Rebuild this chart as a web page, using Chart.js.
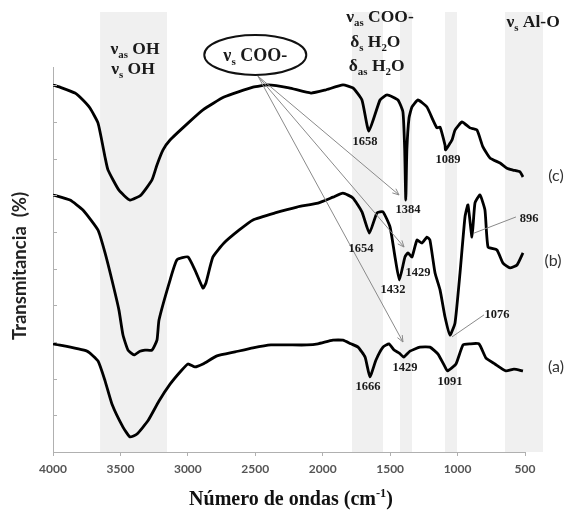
<!DOCTYPE html>
<html><head><meta charset="utf-8">
<script src="https://cdn.jsdelivr.net/npm/chart.js@4.4.1/dist/chart.umd.min.js"></script>
<style>html,body{margin:0;padding:0;background:#fff;}#wrap{width:567px;height:510px;}</style>
</head><body><div id="wrap"><canvas id="cv" width="567" height="510"></canvas></div>
<script>
// ---- data (wavenumber cm-1, transmittance, arbitrary offset %) ----
const waveC = [4000,3948,3837,3778,3726,3666,3614,3592,3511,3429,3347,3266,3229,3184,3132,2999,2888,2732,2517,2406,2250,2087,1983,1850,1776,1709,1658,1575,1523,1442,1405,1392,1384,1376,1360,1338,1294,1227,1182,1153,1130,1093,1089,1041,1019,967,908,856,812,760,685,634,589,537,515];
const transC = [100.1,99.5,97.9,96.0,93.8,89.7,80.4,76.9,71.4,68.7,70.1,74.2,78.3,82.4,85.1,89.7,93.3,96.8,99.5,100.1,99.3,97.9,98.7,100.1,99.3,96.0,87.5,96.0,97.4,96.0,92.7,82.4,68.7,82.4,91.1,94.1,96.0,94.1,90.5,88.4,88.6,83.7,82.4,85.1,87.8,90.0,88.4,87.8,83.2,80.2,78.8,77.4,76.9,76.4,75.0];

const waveB = [4000,3874,3778,3666,3614,3563,3511,3481,3444,3399,3355,3318,3266,3229,3214,3132,3081,2999,2947,2888,2866,2814,2732,2621,2517,2354,2191,2035,1924,1850,1776,1709,1654,1598,1553,1501,1464,1432,1390,1368,1338,1301,1264,1227,1205,1167,1130,1093,1056,1019,982,945,923,893,871,834,797,774,708,663,611,559,515];
const transB = [70.1,68.7,66.0,60.5,54.3,46.9,38.7,31.9,27.8,26.5,27.5,27.8,27.8,30.5,36.0,46.9,52.4,53.2,49.6,44.7,46.1,53.2,57.0,60.5,63.3,65.2,66.8,67.9,69.5,70.6,69.3,65.5,59.7,65.2,65.5,61.4,53.2,46.9,53.2,54.3,53.2,57.8,57.0,58.6,57.8,48.8,44.2,36.8,31.9,35.2,48.8,64.1,67.4,58.6,67.9,70.1,66.0,55.9,55.1,51.5,50.2,51.0,54.3];

const waveA = [4000,3748,3666,3614,3563,3481,3429,3377,3296,3214,3132,3051,2999,2947,2888,2784,2650,2517,2384,2250,2117,2035,1924,1850,1790,1738,1686,1650,1605,1553,1509,1471,1430,1400,1353,1279,1205,1145,1093,1075,1012,960,908,841,789,723,641,582,515];
const transA = [29.5,27.5,24.8,19.4,13.1,6.8,4.1,4.9,8.5,13.9,18.5,22.1,24.0,23.2,24.0,26.2,27.3,28.4,29.2,29.2,29.2,29.5,30.5,30.5,29.5,28.6,25.9,20.5,25.1,28.6,29.5,27.8,26.9,25.9,27.5,28.6,28.6,26.7,23.2,22.1,24.0,29.2,29.5,29.5,25.6,24.0,22.1,22.6,22.1];

const xTickValues = [4000,3500,3000,2500,2000,1500,1000,500];
const bandRanges = [[3651,3155],[1783,1553],[1427,1338],[1093,1004],[648,367]];

// peak labels: text, wavenumber, transmittance position
const peakText = ['1658','1089','1384','1654','1429','1432','896','1076','1666','1429','1091'];
const peakW    = [1687,1071,1368,1716,1294,1479,470,708,1664,1390,1056];
const peakV    = [84.5,79.6,66.0,55.4,48.8,44.2,63.5,37.4,17.7,22.9,19.1];

const curveNames = ['(c)','(b)','(a)'];
const curveNameW = [270,292,270];
const curveNameV = [75.3,52.1,23.2];

// arrows from the ellipse to the νs COO- bands
const arrowFrom = [2480,102.5];
const arrowToW = [1434,1397,1405];
const arrowToV = [70.1,55.9,30.0];
// leader lines
const leaderFromW = [878,1041], leaderFromV = [59.7,31.4];
const leaderToW = [567,804], leaderToV = [64.1,37.4];

// ---- drawing helpers ----
function richWidth(ctx, parts, size, fam, weight){
  let w=0;
  for(const p of parts){
    const s = p.s ? size*0.62 : size;
    ctx.font = weight+' '+s+'px '+fam;
    w += ctx.measureText(p.t).width;
  }
  return w;
}
function drawRich(ctx, parts, cx, cy, size, fam, weight, color){
  const w = richWidth(ctx, parts, size, fam, weight);
  let x = cx - w/2;
  ctx.fillStyle = color; ctx.textBaseline='alphabetic'; ctx.textAlign='left';
  const base = cy + size*0.35;
  for(const p of parts){
    const s = p.s ? size*0.62 : size;
    ctx.font = weight+' '+s+'px '+fam;
    let yy = base;
    if(p.s==='sub') yy = base + size*0.22;
    if(p.s==='sup') yy = base - size*0.38;
    ctx.fillText(p.t, x, yy);
    x += ctx.measureText(p.t).width;
  }
}
function arrow(ctx,x1,y1,x2,y2){
  ctx.beginPath(); ctx.moveTo(x1,y1); ctx.lineTo(x2,y2); ctx.stroke();
  const a = Math.atan2(y2-y1,x2-x1), L=7, sp=0.4;
  ctx.beginPath();
  ctx.moveTo(x2-L*Math.cos(a-sp), y2-L*Math.sin(a-sp));
  ctx.lineTo(x2,y2);
  ctx.lineTo(x2-L*Math.cos(a+sp), y2-L*Math.sin(a+sp));
  ctx.stroke();
}

const SERIF = '"Liberation Serif", "Times New Roman", serif';
const SANS = 'Lato, "Open Sans", sans-serif';

const bgPlugin = {
  id:'bg',
  beforeDraw(chart){
    const {ctx, chartArea, scales:{x}} = chart;
    ctx.save();
    ctx.fillStyle='#fff'; ctx.fillRect(0,0,chart.width,chart.height);
    ctx.fillStyle='#f0f0f0';
    for(const [a,b] of bandRanges){
      const p1=x.getPixelForValue(a), p2=x.getPixelForValue(b);
      ctx.fillRect(Math.min(p1,p2), 12, Math.abs(p2-p1), chartArea.bottom-12);
    }
    ctx.restore();
  }
};

const annPlugin = {
  id:'ann',
  afterDraw(chart){
    const {ctx, chartArea, scales:{x,y}} = chart;
    const X = w=>x.getPixelForValue(w), Y = v=>y.getPixelForValue(v);
    ctx.save();
    // y inner ticks
    ctx.strokeStyle='#b0b0b0'; ctx.lineWidth=1;
    for(let v=10; v<=100; v+=10){
      const py=Math.round(Y(v))+0.5;
      ctx.beginPath(); ctx.moveTo(chartArea.left,py); ctx.lineTo(chartArea.left+4,py); ctx.stroke();
    }
    // arrows
    ctx.strokeStyle='#8a8a8a'; ctx.lineWidth=1;
    for(let i=0;i<arrowToW.length;i++){
      arrow(ctx, X(arrowFrom[0]), Y(arrowFrom[1]), X(arrowToW[i]), Y(arrowToV[i]));
    }
    for(let i=0;i<leaderFromW.length;i++){
      ctx.beginPath(); ctx.moveTo(X(leaderFromW[i]),Y(leaderFromV[i])); ctx.lineTo(X(leaderToW[i]),Y(leaderToV[i])); ctx.stroke();
    }
    // peak labels
    ctx.fillStyle='#1a1a1a'; ctx.textAlign='center'; ctx.textBaseline='middle';
    ctx.font='bold 12.5px '+SERIF;
    for(let i=0;i<peakText.length;i++) ctx.fillText(peakText[i], X(peakW[i]), Y(peakV[i]));
    // curve names
    ctx.font='16px '+SANS; ctx.fillStyle='#333';
    for(let i=0;i<curveNames.length;i++) ctx.fillText(curveNames[i], X(curveNameW[i]), Y(curveNameV[i]));
    // top annotations
    const col='#1a1a1a', fs=17.5, wt='bold';
    drawRich(ctx,[{t:'ν'},{t:'as',s:'sub'},{t:' OH'}], X(3392), Y(110.2), fs, SERIF, wt, col);
    drawRich(ctx,[{t:'ν'},{t:'s',s:'sub'},{t:' OH'}], X(3407), Y(104.7), fs, SERIF, wt, col);
    drawRich(ctx,[{t:'ν'},{t:'as',s:'sub'},{t:' COO-'}], X(1575), Y(119.0), fs, SERIF, wt, col);
    drawRich(ctx,[{t:'δ'},{t:'s',s:'sub'},{t:' H'},{t:'2',s:'sub'},{t:'O'}], X(1610), Y(112.2), fs, SERIF, wt, col);
    drawRich(ctx,[{t:'δ'},{t:'as',s:'sub'},{t:' H'},{t:'2',s:'sub'},{t:'O'}], X(1600), Y(105.5), fs, SERIF, wt, col);
    drawRich(ctx,[{t:'ν'},{t:'s',s:'sub'},{t:' Al-O'}], X(440), Y(117.5), fs, SERIF, wt, col);
    // ellipse
    const ex=X(2500), ey=Y(108.3);
    ctx.strokeStyle='#111'; ctx.lineWidth=2;
    ctx.beginPath(); ctx.ellipse(ex,ey,51,20,0,0,Math.PI*2); ctx.stroke();
    drawRich(ctx,[{t:'ν'},{t:'s',s:'sub'},{t:' COO-'}], ex, ey, 18, SERIF, wt, col);
    // axis titles
    drawRich(ctx,[{t:'Número de ondas (cm'},{t:'-1',s:'sup'},{t:')'}], (chartArea.left+chartArea.right)/2+2, 498, 20, SERIF, 'bold', '#111');
    ctx.save();
    ctx.translate(20, 266); ctx.rotate(-Math.PI/2);
    ctx.font='bold 18.5px '+SANS; ctx.fillStyle='#222'; ctx.textAlign='center'; ctx.textBaseline='middle';
    ctx.fillText('Transmitancia  (%)',0,0);
    ctx.restore();
    ctx.restore();
  }
};

function series(w,t){ return w.map((v,i)=>({x:v,y:t[i]})); }
const lineStyle = {borderColor:'#000', borderWidth:2.8, pointRadius:0, tension:0.15, fill:false};

new Chart(document.getElementById('cv'),{
  type:'line',
  data:{datasets:[
    Object.assign({label:'(c)', data:series(waveC,transC)}, lineStyle),
    Object.assign({label:'(b)', data:series(waveB,transB)}, lineStyle),
    Object.assign({label:'(a)', data:series(waveA,transA)}, lineStyle)
  ]},
  options:{
    responsive:false, animation:false, devicePixelRatio:1,
    layout:{padding:{left:0,right:42,top:67,bottom:0}},
    plugins:{legend:{display:false}, tooltip:{enabled:false}},
    scales:{
      x:{type:'linear', reverse:true, min:500, max:4000,
         afterBuildTicks(s){ s.ticks = xTickValues.map(v=>({value:v})); },
         afterFit(s){ s.height=58; },
         ticks:{callback:v=>String(v), color:'#555', font:{family:'Lato', size:12, weight:'bold'}, padding:6, maxRotation:0, autoSkip:false},
         grid:{drawOnChartArea:false, drawTicks:true, tickLength:4, color:'#b0b0b0'},
         border:{display:true, color:'#b0b0b0', width:1}},
      y:{type:'linear', min:0, max:105,
         afterFit(s){ s.width=53; },
         ticks:{display:false},
         grid:{drawOnChartArea:false, drawTicks:false},
         border:{display:true, color:'#b0b0b0', width:1}}
    }
  },
  plugins:[bgPlugin, annPlugin]
});
</script></body></html>
